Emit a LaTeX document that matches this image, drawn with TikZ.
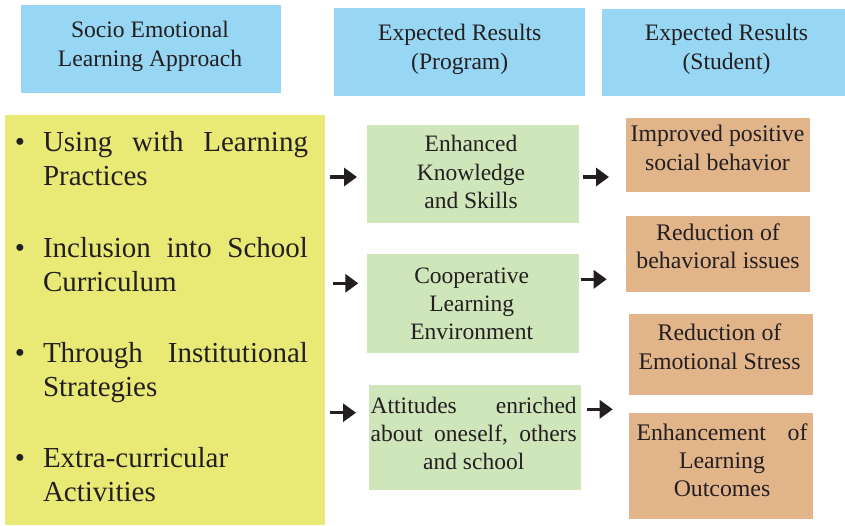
\documentclass[tikz,border=0pt]{standalone}
\usepackage{fontspec}
\setmainfont{Liberation Serif}
\usetikzlibrary{arrows.meta}
\definecolor{headblue}{HTML}{98D7F4}
\definecolor{itemyellow}{HTML}{E9E976}
\definecolor{progreen}{HTML}{CFE5BA}
\definecolor{studorange}{HTML}{E2B48A}
\definecolor{ink}{HTML}{231F20}
\tikzset{
  panel/.style={draw=none, inner sep=0pt, outer sep=0pt, rectangle},
  headbox/.style={panel, fill=headblue},
  listbox/.style={panel, fill=itemyellow},
  progbox/.style={panel, fill=progreen},
  studbox/.style={panel, fill=studorange},
  txt/.style={inner sep=0pt, outer sep=0pt, anchor=base, text=ink},
  headtxt/.style={txt, font=\fontsize{23.6}{29.2}\selectfont},
  progtxt/.style={txt, font=\fontsize{23.5}{28.4}\selectfont},
  studtxt/.style={txt, font=\fontsize{23.8}{28.4}\selectfont},
  listtxt/.style={txt, anchor=base west, font=\fontsize{29}{34.4}\selectfont},
  bullet/.style={txt, font=\fontsize{29}{34.4}\selectfont},
  flow/.style={draw=ink, line width=3.2pt, -{Triangle[length=13pt,width=18pt]}}
}
\begin{document}
\begin{tikzpicture}[x=1pt, y=-1pt]
\useasboundingbox (0,0) rectangle (845,525);

% column headers
\node[headbox, minimum width=260, minimum height=88] (hsel) at (151,49) {};
\node[headbox, minimum width=251, minimum height=88] (hprog) at (459.5,52) {};
\node[headbox, minimum width=244, minimum height=87] (hstud) at (723.5,52.5) {};
\node[headtxt] (hselt) at (150,37.3) {\parbox[t]{250pt}{\centering Socio Emotional\\Learning Approach}};
\node[headtxt] (hprogt) at (459.7,40.7) {\parbox[t]{240pt}{\centering Expected Results\\(Program)}};
\node[headtxt] (hstudt) at (726.5,40.7) {\parbox[t]{240pt}{\centering Expected Results\\(Student)}};

% approach list
\node[listbox, minimum width=320, minimum height=410] (list) at (165,320) {};
\node[bullet] (b1) at (20,151) {•};
\node[bullet] (b2) at (20,257) {•};
\node[bullet] (b3) at (20,362) {•};
\node[bullet] (b4) at (20,467.5) {•};
\node[listtxt] (l1) at (43,151) {\parbox[t]{265pt}{\raggedright Using\hfill with\hfill Learning\\Practices}};
\node[listtxt] (l2) at (43,257) {\parbox[t]{265pt}{\raggedright Inclusion\hfill into\hfill School\\Curriculum}};
\node[listtxt] (l3) at (43,362) {\parbox[t]{265pt}{\raggedright Through\hfill Institutional\\Strategies}};
\node[listtxt] (l4) at (43,467.5) {\parbox[t]{265pt}{\raggedright Extra-curricular\\Activities}};

% program results
\node[progbox, minimum width=212, minimum height=98] (p1) at (473,174) {};
\node[progbox, minimum width=212, minimum height=99] (p2) at (473,303.5) {};
\node[progbox, minimum width=212, minimum height=105] (p3) at (475,437.5) {};
\node[progtxt] (p1t) at (471,151.7) {\parbox[t]{206pt}{\centering Enhanced\\Knowledge\\and Skills}};
\node[progtxt] (p2t) at (471.7,283) {\parbox[t]{206pt}{\centering Cooperative\\Learning\\Environment}};
\node[progtxt] (p3t) at (473.7,413) {\parbox[t]{206pt}{\centering Attitudes\hfill enriched\\about\hfill oneself,\hfill others\\and school}};

% student results
\node[studbox, minimum width=184, minimum height=74] (s1) at (718,155) {};
\node[studbox, minimum width=184, minimum height=76] (s2) at (718,254) {};
\node[studbox, minimum width=184, minimum height=81] (s3) at (721,354.5) {};
\node[studbox, minimum width=184, minimum height=106] (s4) at (721,466) {};
\node[studtxt] (s1t) at (717.5,141.7) {\parbox[t]{184pt}{\centering Improved positive\\social behavior}};
\node[studtxt] (s2t) at (718,240) {\parbox[t]{184pt}{\centering Reduction of\\behavioral issues}};
\node[studtxt] (s3t) at (719.5,340.7) {\parbox[t]{184pt}{\centering Reduction of\\Emotional Stress}};
\node[studtxt] (s4t) at (722,440) {\parbox[t]{171pt}{\centering Enhancement\hfill of\\Learning\\Outcomes}};

% arrow ends
\coordinate (a1s) at (330,177);   \coordinate (a1e) at (357,177);
\coordinate (a2s) at (332.7,283.3); \coordinate (a2e) at (358.3,283.3);
\coordinate (a3s) at (330,412.7); \coordinate (a3e) at (356,412.7);
\coordinate (c1s) at (583,177);   \coordinate (c1e) at (609,177);
\coordinate (c2s) at (580.7,279.3); \coordinate (c2e) at (606.7,279.3);
\coordinate (c3s) at (586.5,409.3); \coordinate (c3e) at (612.7,409.3);

\draw[flow] (a1s) -- (a1e);
\draw[flow] (a2s) -- (a2e);
\draw[flow] (a3s) -- (a3e);
\draw[flow] (c1s) -- (c1e);
\draw[flow] (c2s) -- (c2e);
\draw[flow] (c3s) -- (c3e);
\end{tikzpicture}
\end{document}
